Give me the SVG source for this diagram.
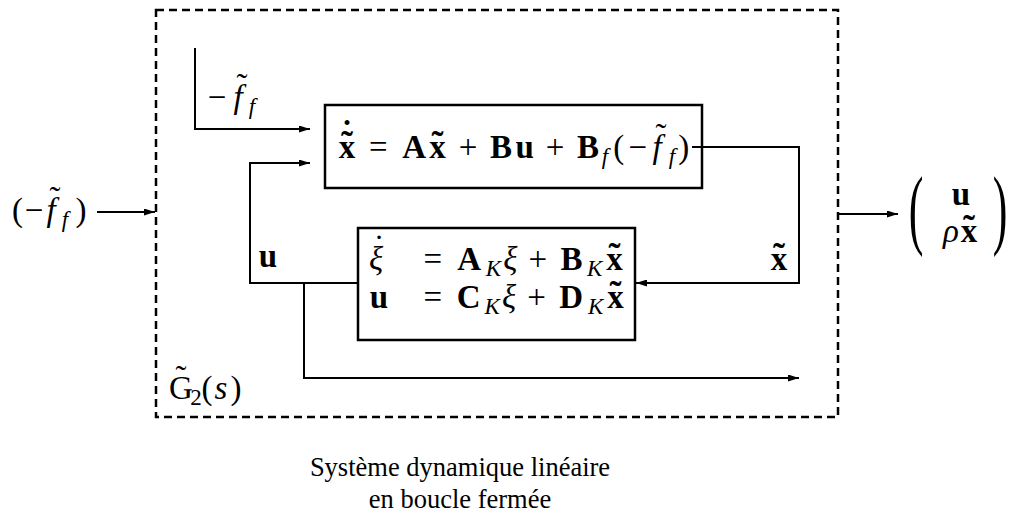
<svg xmlns="http://www.w3.org/2000/svg" width="1010" height="514" viewBox="0 0 1010 514">
<defs>
<marker id="ah" viewBox="0 0 11 7" refX="11" refY="3.5" markerWidth="11" markerHeight="7" markerUnits="userSpaceOnUse" orient="auto"><path d="M0,0 L11,3.5 L0,7 z" fill="#000"/></marker>
<style>
.ln{fill:none;stroke:#000;stroke-width:2}
.bx{fill:none;stroke:#000;stroke-width:2.5}
.fr{fill:none;stroke:#000;stroke-width:2.5;stroke-dasharray:8 5}
.m{font-family:"Liberation Serif",serif;font-size:33px;text-anchor:middle;fill:#000}
.b{font-weight:bold}
.i{font-style:italic}
.s{font-size:23px}
.tl{font-size:36px}
.big{font-size:88px}
.cap{font-family:"Liberation Serif",serif;font-size:26.5px;text-anchor:middle;fill:#000}
</style>
</defs>
<rect width="1010" height="514" fill="#fff"/>

<g id="frame">
<rect class="fr" x="156" y="10" width="682" height="407"/>
<text class="m" y="399"><tspan x="181">G</tspan><tspan x="196" y="405" class="s">2</tspan><tspan x="207" y="399">(</tspan><tspan x="221" class="i">s</tspan><tspan x="236">)</tspan></text>
<text class="m" x="181" y="389">˜</text>
</g>

<g id="connectors">
<path class="ln" d="M97,212 H155" marker-end="url(#ah)"/>
<path class="ln" d="M838,214 H898" marker-end="url(#ah)"/>
<path class="ln" d="M195,48 V129 H310" marker-end="url(#ah)"/>
<path class="ln" d="M358,283 H250 V163 H310" marker-end="url(#ah)"/>
<path class="ln" d="M304,283 V378 H799" marker-end="url(#ah)"/>
<path class="ln" d="M692,147 H799 V283 H636" marker-end="url(#ah)"/>
</g>

<g id="input-label">
<text class="m" y="221"><tspan x="17.5">(</tspan><tspan x="34">−</tspan><tspan x="51" class="i">f</tspan><tspan x="65" y="227" class="i s">f</tspan><tspan x="81" y="221">)</tspan></text>
<text class="m" x="55" y="210">˜</text>
</g>

<g id="ff-label">
<text class="m" y="108"><tspan x="217">−</tspan><tspan x="238" class="i">f</tspan><tspan x="252" y="114" class="i s">f</tspan></text>
<text class="m" x="242" y="97">˜</text>
</g>

<g id="u-label">
<text class="m b" x="268" y="267">u</text>
</g>

<g id="x-label">
<text class="m b" x="779" y="270">x</text>
<text class="m b tl" x="779" y="268">˜</text>
</g>

<g id="plant">
<rect class="bx" x="325" y="105" width="377" height="83"/>
<text class="m" y="158"><tspan x="346.9" class="b">x</tspan><tspan x="378.4">=</tspan><tspan x="414.2" class="b">A</tspan><tspan x="437.5" class="b">x</tspan><tspan x="468">+</tspan><tspan x="501.1" class="b">B</tspan><tspan x="524.8" class="b">u</tspan><tspan x="555">+</tspan><tspan x="588.1" class="b">B</tspan><tspan x="605" y="164" class="i s">f</tspan><tspan x="618.8" y="158">(</tspan><tspan x="637.8">−</tspan><tspan x="657" class="i">f</tspan><tspan x="671.9" y="164" class="i s">f</tspan><tspan x="683.7" y="158">)</tspan></text>
<text class="m b tl" x="346.9" y="156">˜</text>
<text class="m b" x="346.9" y="143">˙</text>
<text class="m b tl" x="437.5" y="156">˜</text>
<text class="m" x="661" y="147">˜</text>
</g>

<g id="controller">
<rect class="bx" x="358" y="228" width="277" height="112"/>
<text class="m" y="270"><tspan x="376" class="i">ξ</tspan><tspan x="432.8">=</tspan><tspan x="469.2" class="b">A</tspan><tspan x="493.3" y="276" class="i s">K</tspan><tspan x="510.4" y="270" class="i">ξ</tspan><tspan x="537.7">+</tspan><tspan x="571.4" class="b">B</tspan><tspan x="594.7" y="276" class="i s">K</tspan><tspan x="614.5" y="270" class="b">x</tspan></text>
<text class="m" x="379" y="258">˙</text>
<text class="m b tl" x="614.5" y="268">˜</text>
<text class="m" y="308"><tspan x="379" class="b">u</tspan><tspan x="432.8">=</tspan><tspan x="468.6" class="b">C</tspan><tspan x="492.1" y="314" class="i s">K</tspan><tspan x="509.1" y="308" class="i">ξ</tspan><tspan x="536.5">+</tspan><tspan x="571.2" class="b">D</tspan><tspan x="595.6" y="314" class="i s">K</tspan><tspan x="615.4" y="308" class="b">x</tspan></text>
<text class="m b tl" x="615.4" y="306">˜</text>
</g>

<g id="output-label">
<text class="m big" transform="translate(916,238) scale(0.5,1)">(</text>
<text class="m b" x="961" y="205">u</text>
<text class="m" y="242"><tspan x="951" class="i">ρ</tspan><tspan x="969" class="b">x</tspan></text>
<text class="m b tl" x="969" y="240">˜</text>
<text class="m big" transform="translate(1000,238) scale(0.5,1)">)</text>
</g>

<g id="caption">
<text class="cap" x="460" y="476">Système dynamique linéaire</text>
<text class="cap" x="460" y="508">en boucle fermée</text>
</g>
</svg>
